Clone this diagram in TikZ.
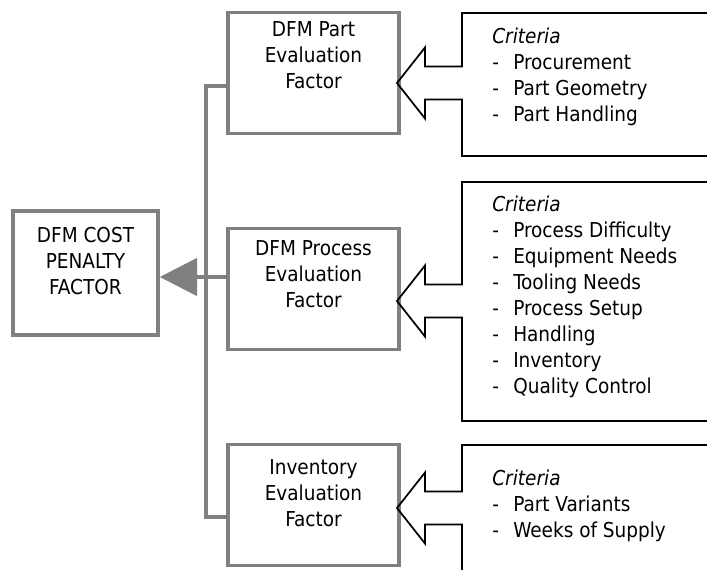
\documentclass[tikz,border=0pt]{standalone}
\usepackage{fontspec}
\usetikzlibrary{positioning,arrows.meta}
\newfontfamily\boxfamily{DejaVu Sans Condensed}
\newcommand{\boxfont}{\boxfamily\fontsize{15.4pt}{19.5pt}\selectfont}
\newcommand{\critem}[1]{\makebox[15.75pt][l]{-}#1}
\definecolor{boxgray}{RGB}{128,128,128}

\tikzset{
	costbox/.style={draw=boxgray, line width=2.6pt, minimum width=108.75pt, minimum height=93pt, inner sep=0pt},
	factorbox/.style={draw=boxgray, line width=2.6pt, minimum width=128.25pt, minimum height=90.75pt, inner sep=0pt},
	boxtext/.style={align=center, inner sep=0pt, font=\boxfont},
	crittext/.style={align=left, inner sep=0pt, anchor=north west, font=\boxfont},
	bus/.style={draw=boxgray, line width=2.6pt},
	critline/.style={draw=black, line width=1.3pt, line join=miter},
}

% criteria call-out: tip y, top y, bottom y
\newcommand{\critshape}[3]{%
	\draw[critline] (707,#2) -- (462,#2) -- (462,#1-16.5) -- (425,#1-16.5) -- (425,#1-35.5) -- (397,#1)
		-- (425,#1+35.5) -- (425,#1+16.5) -- (462,#1+16.5) -- (462,#3) -- (707,#3);}

\begin{document}
\begin{tikzpicture}[x=0.75pt,y=0.75pt,yscale=-1]
	\useasboundingbox (0,0) rectangle (707,569);
	
	% boxes
	\node[costbox] (cost) at (85.5,273) {};
	\node[factorbox] (part) at (313.5,73) {};
	\node[factorbox] (proc) at (313.5,289) {};
	\node[factorbox] (inv) at (313.5,505) {};
	
	% box texts
	\node[boxtext, below=13.5pt of cost.north] (costtxt) {DFM COST\\PENALTY\\FACTOR};
	\node[boxtext, below=7.5pt of part.north] (parttxt) {DFM Part\\Evaluation\\Factor};
	\node[boxtext, below=9.75pt of proc.north] (proctxt) {DFM Process\\Evaluation\\Factor};
	\node[boxtext, below=12pt of inv.north] (invtxt) {Inventory\\Evaluation\\Factor};
	
	% gray connectors
	\coordinate (bustop) at (206,86);
	\coordinate (busbot) at (206,517);
	\coordinate (feed) at (206,277);
	\draw[bus] (part.west |- bustop) -- (bustop) -- (busbot) -- (inv.west |- busbot);
	\draw[bus, -{Triangle[length=28pt, width=28pt]}] (proc.west |- feed) -- (cost.east |- feed);
	
	% criteria call-outs
	\critshape{83}{13}{156}
	\critshape{301}{182}{421}
	\critshape{508}{445}{575}
	
	\node[crittext] (partcrit) at (492,28) {\textit{Criteria}\\\critem{Procurement}\\\critem{Part Geometry}\\\critem{Part Handling}};
	\node[crittext] (proccrit) at (492,196) {\textit{Criteria}\\\critem{Process Difficulty}\\\critem{Equipment Needs}\\\critem{Tooling Needs}\\\critem{Process Setup}\\\critem{Handling}\\\critem{Inventory}\\\critem{Quality Control}};
	\node[crittext] (invcrit) at (492,470) {\textit{Criteria}\\\critem{Part Variants}\\\critem{Weeks of Supply}};
	
\end{tikzpicture}
\end{document}
